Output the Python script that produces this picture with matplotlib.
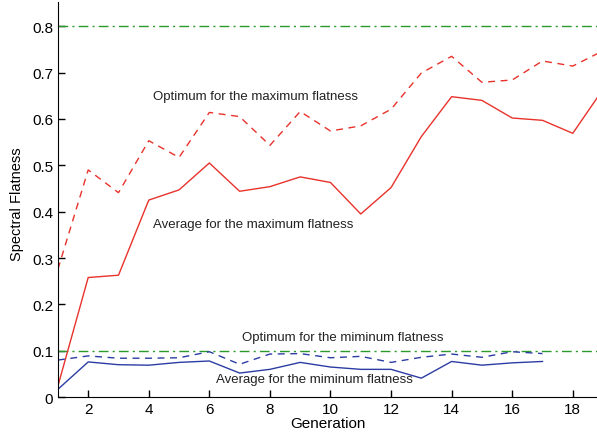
import matplotlib
matplotlib.use("Agg")
import matplotlib.pyplot as plt

plt.rcParams['font.family'] = ['Liberation Sans', 'DejaVu Sans']

# Generation numbers
gen_max = list(range(1, 20))
gen_min = list(range(1, 18))

# Spectral flatness values
opt_max = [0.276, 0.490, 0.441, 0.553, 0.517, 0.614, 0.605, 0.543, 0.616, 0.574,
           0.585, 0.621, 0.699, 0.735, 0.679, 0.684, 0.725, 0.714, 0.747]
avg_max = [0.024, 0.258, 0.263, 0.425, 0.447, 0.505, 0.444, 0.454, 0.475, 0.463,
           0.395, 0.452, 0.562, 0.648, 0.640, 0.602, 0.597, 0.569, 0.664]
opt_min = [0.080, 0.089, 0.084, 0.084, 0.085, 0.098, 0.071, 0.093, 0.094, 0.085,
           0.088, 0.075, 0.086, 0.093, 0.086, 0.098, 0.094]
avg_min = [0.017, 0.076, 0.070, 0.069, 0.075, 0.078, 0.052, 0.060, 0.075, 0.065,
           0.060, 0.060, 0.041, 0.077, 0.069, 0.074, 0.077]
bounds = [0.8, 0.1]

red = '#e8322b'
blue = '#2b3da3'
green = '#2a9a2a'

fig = plt.figure(figsize=(5.97, 4.39), dpi=100)
ax = fig.add_axes([0.097, 0.093, 0.903, 0.9])

for b in bounds:
    ax.axhline(b, color=green, lw=1.0, linestyle=(0, (7, 3, 1.5, 3)))

ax.plot(gen_max, opt_max, color=red, lw=1.0, linestyle=(0, (5, 4)))
ax.plot(gen_max, avg_max, color=red, lw=1.0)
ax.plot(gen_min, opt_min, color=blue, lw=1.0, linestyle=(0, (5, 4)))
ax.plot(gen_min, avg_min, color=blue, lw=1.0)

tkw = dict(fontsize=9.5, color='#222222', va='center')
ax.text(4.15, 0.649, 'Optimum for the maximum flatness', **tkw)
ax.text(4.15, 0.373, 'Average for the maximum flatness', **tkw)
ax.text(7.08, 0.129, 'Optimum for the miminum flatness', **tkw)
ax.text(6.22, 0.039, 'Average for the miminum flatness', **tkw)

ax.set_xlim(1, 18.8)
ax.set_ylim(0, 0.852)
ax.set_xticks(range(2, 19, 2))
ax.set_yticks([0, 0.1, 0.2, 0.3, 0.4, 0.5, 0.6, 0.7, 0.8])
ax.set_yticklabels(['0', '0.1', '0.2', '0.3', '0.4', '0.5', '0.6', '0.7', '0.8'])
ax.tick_params(direction='in', length=5, labelsize=11, width=1.0)
ax.spines['top'].set_visible(False)
ax.spines['right'].set_visible(False)
ax.set_xlabel('Generation', fontsize=11, labelpad=0)
ax.set_ylabel('Spectral Flatness', fontsize=10.5, labelpad=4)
ax.yaxis.set_label_coords(-0.062, 0.49)

fig.savefig('out.png', dpi=100)
